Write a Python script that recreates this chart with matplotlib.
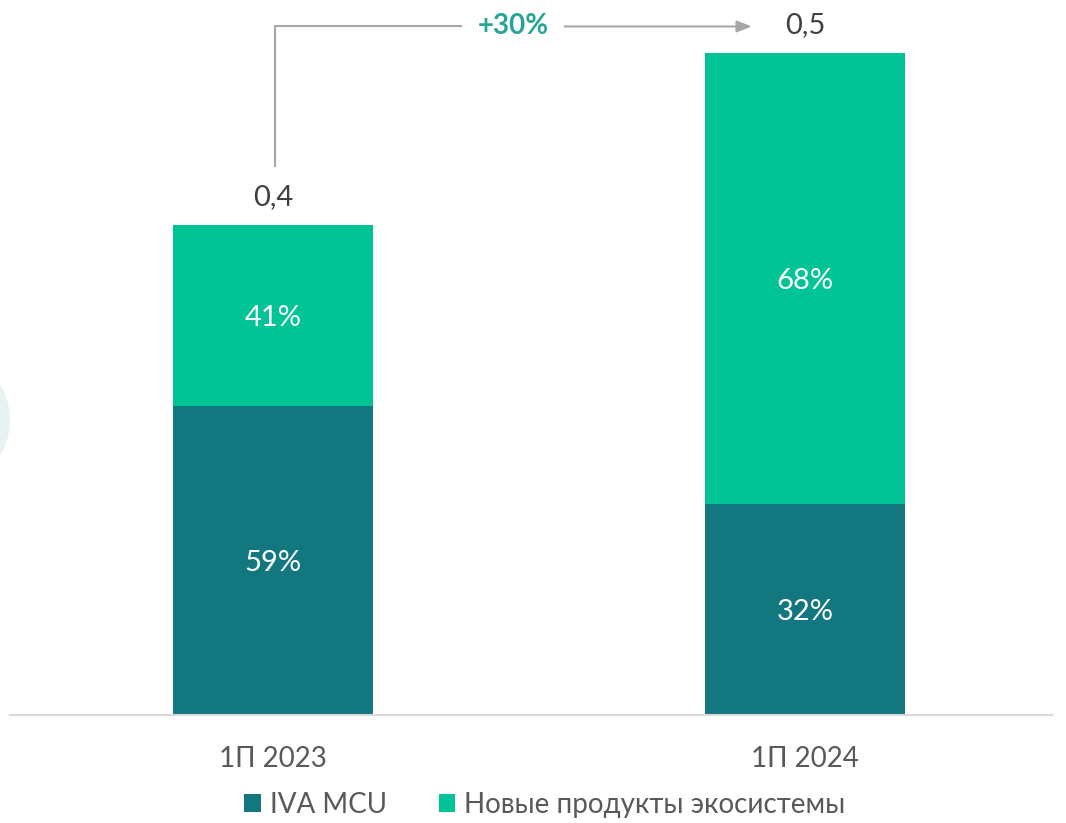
import matplotlib
matplotlib.use("Agg")
import matplotlib.pyplot as plt
from matplotlib.patches import Circle, Patch

categories = ["1П 2023", "1П 2024"]
iva_mcu = [0.233, 0.159]
new_products = [0.137, 0.341]
total_labels = ["0,4", "0,5"]
iva_pct = ["59%", "32%"]
new_pct = ["41%", "68%"]
growth_label = "+30%"
series_names = ["IVA MCU", "Новые продукты экосистемы"]

dark = "#13777f"
light = "#00c495"
text_dark = "#404040"
text_gray = "#595959"

plt.rcParams['font.family'] = ['Lato', 'DejaVu Sans']

W, H = 1066, 823
fig = plt.figure(figsize=(W / 100, H / 100), dpi=100)

# decorative faint circle at the left edge
circ = Circle((-58, H - 420), 68, transform=None, facecolor="#e9f2f3", edgecolor="none", zorder=0)
fig.patches.append(circ)

ax = fig.add_axes([10 / W, (H - 715) / H, 1042 / W, 715 / H])
ax.set_facecolor("none")
x = list(range(len(categories)))
bw = 0.376
ax.bar(x, iva_mcu, width=bw, color=dark, label=series_names[0], zorder=2)
ax.bar(x, new_products, width=bw, bottom=iva_mcu, color=light, label=series_names[1], zorder=2)

ax.set_xlim(-0.494, 1.464)
ax.set_ylim(0, 0.54)

for i in x:
    tot = iva_mcu[i] + new_products[i]
    ax.text(i, iva_mcu[i] / 2 - 0.002, iva_pct[i], ha="center", va="center", color="white", fontsize=21)
    ax.text(i, iva_mcu[i] + new_products[i] / 2 - 0.002, new_pct[i], ha="center", va="center",
            color="white", fontsize=21)
    ax.text(i, tot + 0.011, total_labels[i], ha="center", va="bottom",
            color=text_dark, fontsize=21)

# growth bracket
gray = "#a6a6a6"
x0 = 0.004
y_low = 0.415
y_top = 0.520
x_text = 0.451
x_tip = 0.900
ax.plot([x0, x0, 0.354], [y_low, y_top, y_top], color=gray, lw=1.5, solid_joinstyle="miter", clip_on=False)
ax.annotate("", xy=(x_tip, y_top), xytext=(0.548, y_top),
            arrowprops=dict(arrowstyle="-|>,head_length=0.9,head_width=0.35", color=gray, lw=1.5,
                            shrinkA=0, shrinkB=0), annotation_clip=False)
ax.text(x_text, y_top, growth_label, ha="center", va="center", color="#26a596",
        fontsize=20, fontweight="bold")

for s in ["top", "left", "right"]:
    ax.spines[s].set_visible(False)
ax.spines["bottom"].set_color("#d9d9d9")
ax.spines["bottom"].set_linewidth(1.5)
ax.set_yticks([])
ax.set_xticks(x)
ax.set_xticklabels(categories, fontsize=20, color=text_gray)
ax.tick_params(axis="x", length=0, pad=22)

handles = [Patch(facecolor=dark), Patch(facecolor=light)]
fig.legend(handles, series_names, loc="center", bbox_to_anchor=(545 / W, 1 - 805 / H),
           ncol=2, frameon=False, fontsize=20, labelcolor=text_gray,
           handlelength=0.6, handleheight=0.6, handletextpad=0.33, columnspacing=1.85,
           borderpad=0.1)

fig.savefig("out.png", dpi=100)
